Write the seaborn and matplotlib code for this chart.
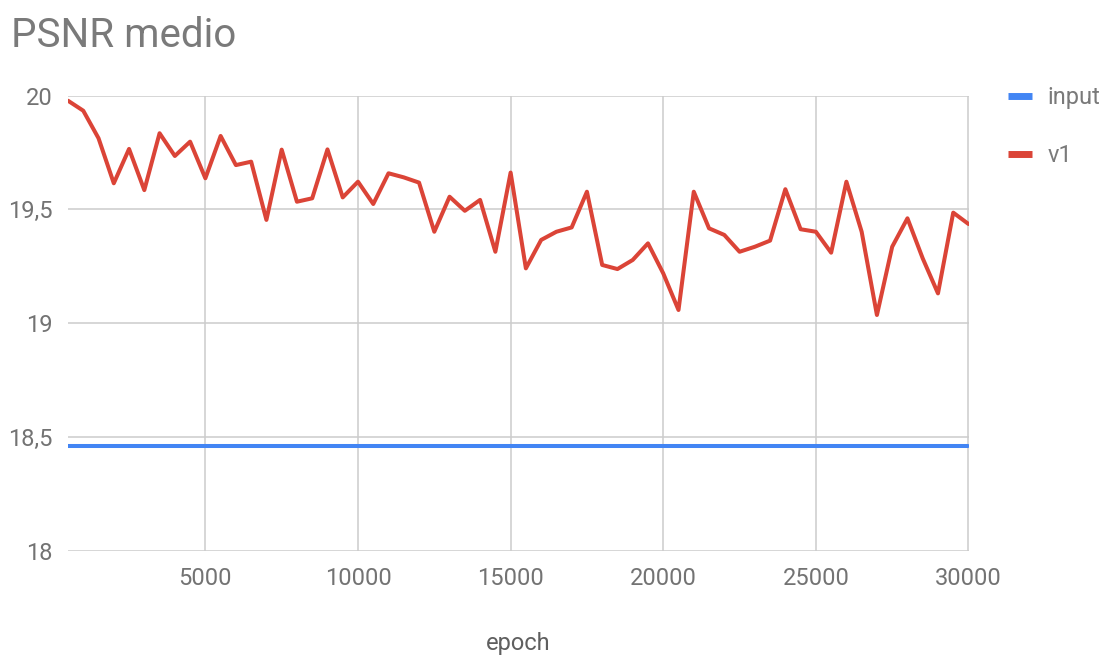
import numpy as np
import pandas as pd
import matplotlib
matplotlib.use("Agg")
import matplotlib.pyplot as plt
from matplotlib.lines import Line2D
import seaborn as sns

# Mean PSNR per evaluation epoch
epochs = list(range(500, 30001, 500))
v1_psnr = [
    19.978, 19.934, 19.813, 19.615, 19.766, 19.585, 19.835, 19.735, 19.798, 19.637,
    19.823, 19.695, 19.710, 19.454, 19.763, 19.534, 19.549, 19.764, 19.553, 19.622,
    19.524, 19.659, 19.641, 19.618, 19.402, 19.556, 19.494, 19.542, 19.314, 19.662,
    19.241, 19.366, 19.402, 19.421, 19.578, 19.256, 19.238, 19.278, 19.351, 19.219,
    19.058, 19.578, 19.417, 19.388, 19.314, 19.336, 19.363, 19.589, 19.413, 19.402,
    19.310, 19.622, 19.402, 19.036, 19.336, 19.461, 19.285, 19.131, 19.486, 19.436,
]
input_psnr = [18.46] * len(epochs)

series_names = ["input", "v1"]
series_colors = ["#4285F4", "#DB4437"]

x_ticks = [5000, 10000, 15000, 20000, 25000, 30000]
y_ticks = [18, 18.5, 19, 19.5, 20]
y_tick_labels = ["18", "18,5", "19", "19,5", "20"]

df = pd.DataFrame({
    "epoch": epochs * 2,
    "psnr": input_psnr + v1_psnr,
    "serie": [series_names[0]] * len(epochs) + [series_names[1]] * len(epochs),
})

sns.set_theme(style="white")
plt.rcParams["font.family"] = ["Roboto", "DejaVu Sans"]

W, H = 1107, 656
fig = plt.figure(figsize=(W / 100, H / 100), dpi=100)
left, right, top, bottom = 68, 968.5, 95.7, 550.7
ax = fig.add_axes([left / W, 1 - bottom / H, (right - left) / W, (bottom - top) / H])

palette = dict(zip(series_names, series_colors))
sns.lineplot(data=df, x="epoch", y="psnr", hue="serie", palette=palette,
             linewidth=2.9, ax=ax, legend=False, estimator=None, sort=False)

ax.set_xlim(500, 30000)
ax.set_ylim(18, 20)
ax.set_xticks(x_ticks)
ax.set_xticklabels([str(t) for t in x_ticks])
ax.set_yticks(y_ticks)
ax.set_yticklabels(y_tick_labels)

text_color = "#737373"
ax.tick_params(axis="both", length=0, labelsize=17, labelcolor=text_color)
ax.tick_params(axis="x", pad=12)
ax.tick_params(axis="y", pad=11)
ax.grid(True, color="#cccccc", linewidth=1.1)
ax.set_axisbelow(True)
for s in ax.spines.values():
    s.set_visible(False)

ax.set_ylabel("")
ax.set_xlabel("epoch", fontsize=17, color="#5f5f5f")
ax.xaxis.set_label_coords(0.5, (bottom - 650) / (bottom - top))
ax.xaxis.label.set_va("baseline")

fig.text(11 / W, 1 - 47 / H, "PSNR medio", fontsize=29, color="#7a7a7a",
         ha="left", va="baseline")

handles = [Line2D([], [], color=c, linewidth=5, solid_capstyle="butt") for c in series_colors]
fig.legend(handles, series_names, loc="upper left",
           bbox_to_anchor=(1008 / W, 1 - 86 / H), frameon=False,
           fontsize=17, labelcolor="#7a7a7a", handlelength=1.0,
           handletextpad=0.68, labelspacing=1.5, borderpad=0, borderaxespad=0)

fig.savefig("out.png", dpi=100, facecolor="white")
